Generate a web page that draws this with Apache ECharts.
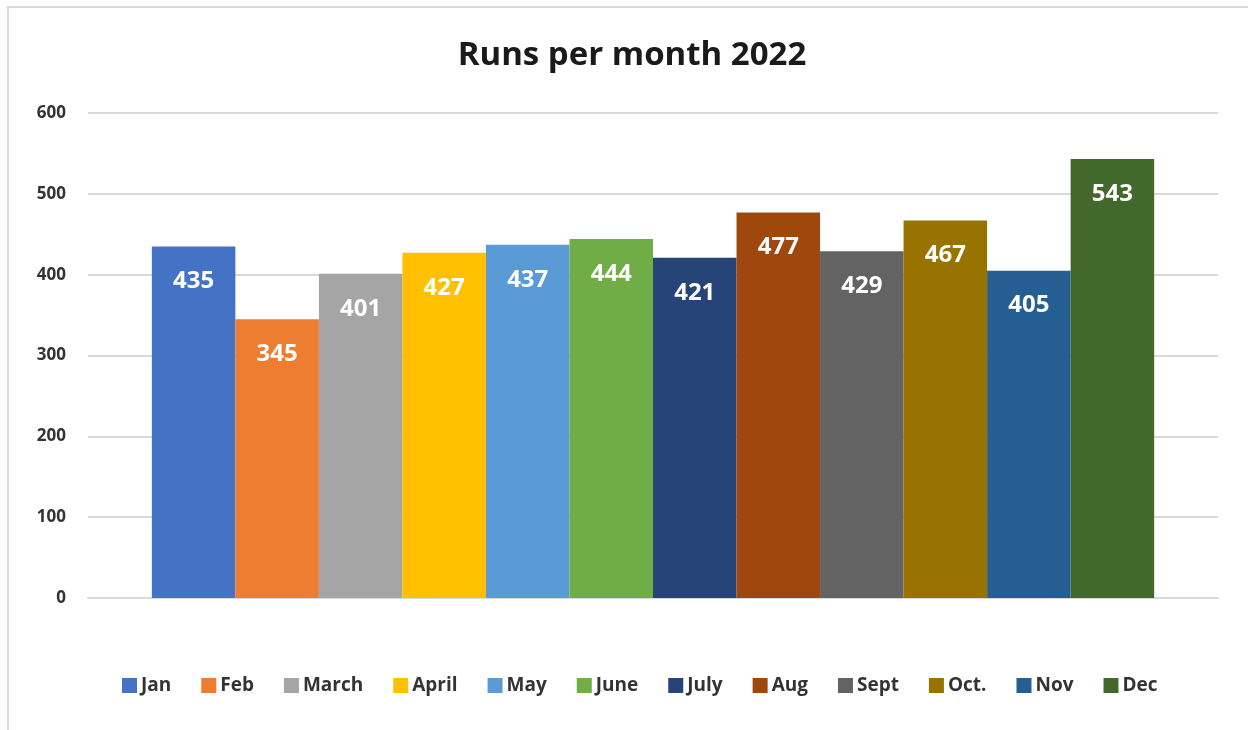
<!DOCTYPE html>
<html>
<head>
<meta charset="utf-8">
<script src="https://cdn.jsdelivr.net/npm/echarts@6/dist/echarts.min.js"></script>
<style>
html, body { margin: 0; padding: 0; background: #fff; }
#wrap { position: absolute; left: 7px; top: 6px; width: 1260px; height: 740px; border: 2px solid #d9d9d9; box-sizing: border-box; }
#main { position: absolute; left: 0; top: 0; width: 1248px; height: 730px; }
</style>
</head>
<body>
<div id="wrap"></div>
<div id="main"></div>
<script>
// 数据
var months = ['Jan', 'Feb', 'March', 'April', 'May', 'June', 'July', 'Aug', 'Sept', 'Oct.', 'Nov', 'Dec'];
var runs = [435, 345, 401, 427, 437, 444, 421, 477, 429, 467, 405, 543];
var colors = ['#4472C4', '#ED7D31', '#A5A5A5', '#FFC000', '#5B9BD5', '#70AD47',
              '#264478', '#9E480E', '#636363', '#997300', '#255E91', '#43682B'];
var yTicks = [0, 100, 200, 300, 400, 500, 600];

var font = '"Open Sans", "Liberation Sans", sans-serif';

var series = [];
for (var i = 0; i < months.length; i++) {
    series.push({
        name: months[i],
        type: 'bar',
        data: [runs[i]],
        barGap: '0%',
        barCategoryGap: '11.3%',
        itemStyle: { color: colors[i] },
        label: {
            show: true,
            position: 'insideTop',
            distance: 23,
            color: '#fff',
            fontWeight: 'bold',
            fontSize: 24,
            fontFamily: font
        }
    });
}

var option = {
    animation: false,
    color: colors,
    title: {
        text: 'Runs per month 2022',
        left: 627,
        textAlign: 'center',
        top: 34,
        textStyle: { fontSize: 33, fontWeight: 'bold', color: '#1a1a1a', fontFamily: font }
    },
    legend: {
        data: months,
        bottom: 30,
        left: 117,
        itemWidth: 15,
        itemHeight: 15,
        itemGap: 30,
        icon: 'rect',
        textStyle: { fontSize: 19, fontWeight: 'bold', color: '#333', fontFamily: font, padding: [0, 0, 0, -1] }
    },
    grid: { left: 88, right: 30, top: 113, bottom: 132 },
    xAxis: {
        type: 'category',
        data: [''],
        axisTick: { show: false },
        axisLabel: { show: false },
        axisLine: { lineStyle: { color: '#d9d9d9', width: 2 } }
    },
    yAxis: {
        type: 'value',
        min: yTicks[0],
        max: yTicks[yTicks.length - 1],
        interval: 100,
        axisLine: { show: false },
        axisTick: { show: false },
        axisLabel: { fontSize: 17, fontWeight: 'bold', color: '#333', margin: 22, fontFamily: font },
        splitLine: { lineStyle: { color: '#d9d9d9', width: 2 } }
    },
    series: series
};

var myChart = echarts.init(document.getElementById('main'));
myChart.setOption(option);
</script>
</body>
</html>
